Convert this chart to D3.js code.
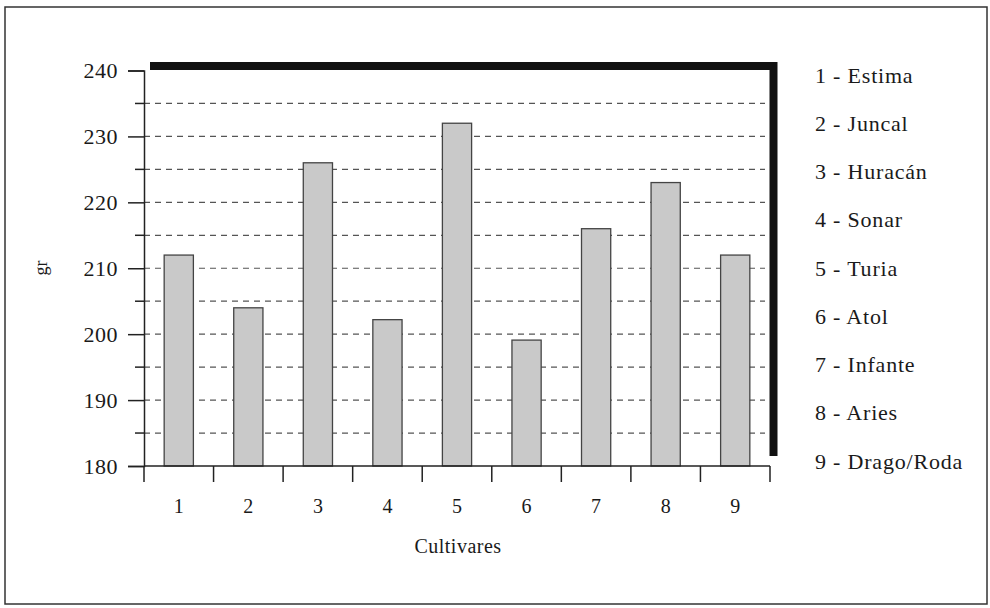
<!DOCTYPE html>
<html>
<head>
<meta charset="utf-8">
<script src="https://cdn.jsdelivr.net/npm/d3@7"></script>
<style>
  body { margin: 0; background: #fff; }
  text { font-family: "Liberation Serif", "DejaVu Serif", serif; fill: #1a1a1a; }
</style>
</head>
<body>
<div id="chart"></div>
<script>
// Data
const cultivares = ["1", "2", "3", "4", "5", "6", "7", "8", "9"];
const pesos = [212, 204, 226, 202.2, 232, 199.1, 216, 223, 212];
const nombres = ["1 - Estima", "2 - Juncal", "3 - Huracán", "4 - Sonar", "5 - Turia",
                 "6 - Atol", "7 - Infante", "8 - Aries", "9 - Drago/Roda"];
const yTicks = [180, 190, 200, 210, 220, 230, 240];
const gridValues = [185, 190, 195, 200, 205, 210, 215, 220, 225, 230, 235];

const W = 990, H = 608;
const margin = {top: 70.5, right: 220, bottom: 142, left: 144};
const width = 770 - margin.left,
      height = 466 - margin.top;

const root = d3.select("#chart").append("svg")
    .attr("width", W)
    .attr("height", H);

// outer frame
root.append("rect")
    .attr("x", 5).attr("y", 7)
    .attr("width", 982).attr("height", 597)
    .attr("fill", "none")
    .attr("stroke", "#333")
    .attr("stroke-width", 1.5);

const svg = root.append("g")
    .attr("transform", `translate(${margin.left}, ${margin.top})`);

const x = d3.scaleBand()
    .domain(cultivares)
    .range([0, width])
    .paddingInner(0.58)
    .paddingOuter(0.29);

const y = d3.scaleLinear()
    .domain([180, 240])
    .range([height, 0]);

// dashed grid
svg.append("g")
  .selectAll("line")
  .data(gridValues)
  .join("line")
    .attr("x1", 0)
    .attr("x2", width - 5)
    .attr("y1", d => y(d))
    .attr("y2", d => y(d))
    .attr("stroke", "#555")
    .attr("stroke-width", 1.2)
    .attr("stroke-dasharray", "6,5");

// minor ticks on the y axis
svg.append("g")
  .selectAll("line")
  .data(gridValues.filter(d => d % 10 !== 0))
  .join("line")
    .attr("x1", -9).attr("x2", 0)
    .attr("y1", d => y(d)).attr("y2", d => y(d))
    .attr("stroke", "#222")
    .attr("stroke-width", 1.5);

// bars
svg.append("g")
  .selectAll("rect")
  .data(pesos)
  .join("rect")
    .attr("x", (d, i) => x(cultivares[i]))
    .attr("y", d => y(d))
    .attr("width", x.bandwidth())
    .attr("height", d => height - y(d))
    .attr("fill", "#c9c9c9")
    .attr("stroke", "#444")
    .attr("stroke-width", 1.3);

// thick black frame (top and right)
svg.append("path")
    .attr("d", `M6,${y(240) - 4.5} H${width + 3.5} V${height - 10}`)
    .attr("fill", "none")
    .attr("stroke", "#111")
    .attr("stroke-width", 8);

// Y axis
const yAxis = svg.append("g")
    .call(d3.axisLeft(y).tickValues(yTicks).tickSize(16).tickPadding(10).tickFormat(d3.format("d")));
yAxis.select(".domain").attr("stroke", "#222").attr("stroke-width", 1.5);
yAxis.selectAll(".tick line").attr("stroke", "#222").attr("stroke-width", 1.5);
yAxis.selectAll(".tick text")
    .style("font-family", "Liberation Serif, serif")
    .style("font-size", "22px")
    .style("letter-spacing", "0.5px")
    .attr("fill", "#1a1a1a");

// X axis: ticks between categories
const xAxisG = svg.append("g")
    .attr("transform", `translate(0, ${height})`);
xAxisG.append("line")
    .attr("x1", 0).attr("x2", width)
    .attr("stroke", "#222").attr("stroke-width", 1.5);
const step = x.step();
xAxisG.selectAll(".sep")
  .data(d3.range(cultivares.length + 1))
  .join("line")
    .attr("class", "sep")
    .attr("x1", i => i === cultivares.length ? width : x(cultivares[i]) - step * 0.29)
    .attr("x2", i => i === cultivares.length ? width : x(cultivares[i]) - step * 0.29)
    .attr("y1", 0).attr("y2", 16)
    .attr("stroke", "#222").attr("stroke-width", 1.5);
xAxisG.selectAll(".lbl")
  .data(cultivares)
  .join("text")
    .attr("class", "lbl")
    .attr("x", d => x(d) + x.bandwidth() / 2)
    .attr("y", 47)
    .attr("text-anchor", "middle")
    .style("font-size", "20px")
    .text(d => d);

// axis titles
svg.append("text")
    .attr("x", 314)
    .attr("y", 553 - margin.top)
    .attr("text-anchor", "middle")
    .style("font-size", "20px")
    .style("letter-spacing", "0.5px")
    .text("Cultivares");

svg.append("text")
    .attr("transform", `translate(${47 - margin.left}, ${268 - margin.top}) rotate(-90)`)
    .attr("text-anchor", "middle")
    .style("font-size", "18px")
    .text("gr");

// legend
const legend = root.append("g")
    .attr("transform", "translate(815, 75)");
legend.selectAll("text")
  .data(nombres)
  .join("text")
    .attr("x", 0)
    .attr("y", (d, i) => i * 48.25)
    .attr("dy", "0.35em")
    .style("font-size", "22px")
    .style("letter-spacing", "0.8px")
    .text(d => d);
</script>
</body>
</html>
